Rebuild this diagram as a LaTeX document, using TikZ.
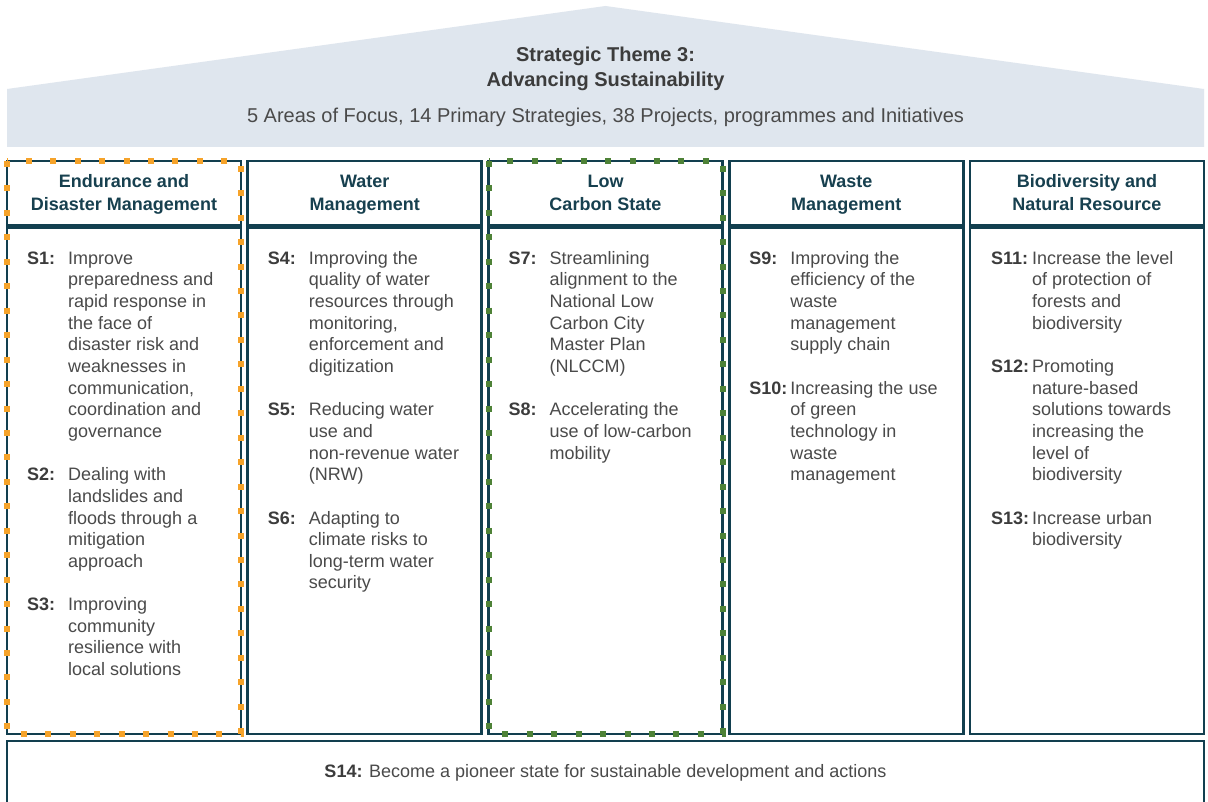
\documentclass[tikz,border=0pt]{standalone}
\usepackage{fontspec}
\setmainfont{Liberation Sans}
\usepackage{array}

\definecolor{roofgray}{HTML}{DFE6EE}
\definecolor{boxteal}{HTML}{123F4F}
\definecolor{dotorange}{HTML}{F6A32A}
\definecolor{dotgreen}{HTML}{4E8237}
\definecolor{headteal}{HTML}{17404F}
\definecolor{bodygray}{HTML}{4A4A4A}
\definecolor{labelgray}{HTML}{3C3C3C}

\tikzset{
    boxline/.style={draw=boxteal, line width=2.6pt},
    divline/.style={draw=boxteal, line width=5pt},
    dotline/.style={line width=6pt, dash pattern=on 6pt off 18.45pt},
    headtext/.style={inner sep=0pt, text=headteal,
        font=\fontsize{18}{22.5}\selectfont\bfseries},
    strat/.style={anchor=north west, inner sep=0pt, text=bodygray,
        font=\fontsize{18}{21.65}\selectfont},
}
\newcommand{\stitem}[2]{\begin{tabular}{@{}p{41pt}@{}l@{}}%
    \textcolor{labelgray}{\bfseries #1} & #2\end{tabular}}
\newcommand{\headlines}[2]{\begin{tabular}{@{}c@{}}#1\\#2\end{tabular}}

\begin{document}
\begin{tikzpicture}[x=1pt, y=-1pt]
    \useasboundingbox (0,0) rectangle (1208,802);
    \fill[white] (0,0) rectangle (1208,802);
    \clip (0,0) rectangle (1208,802);

    % roof
    \fill[roofgray] (7,147) -- (7,89) -- (605.5,6) -- (1204,89)
        -- (1204,147) -- cycle;
    \node[inner sep=0pt, text=labelgray,
        font=\fontsize{20}{24.3}\selectfont\bfseries] (theme) at (605.5,69)
        {\headlines{Strategic Theme 3:}{Advancing Sustainability}};
    \node[anchor=base, inner sep=0pt, text=bodygray,
        font=\fontsize{20}{24}\selectfont] (focus) at (605.5,122.3)
        {5 Areas of Focus, 14 Primary Strategies, 38 Projects, programmes and Initiatives};

    % pillars
    \foreach \i in {0,...,4} {
        \pgfmathsetmacro{\cl}{7+240.75*\i}
        \draw[boxline] (\cl,161) rectangle ++(234,573);
        \draw[divline] (\cl,227) -- ++(234,0);
    }
    \draw[dotline, dotorange] (7,161) rectangle (241,734);
    \draw[dotline, dotgreen] (488.5,161) rectangle (722.5,734);

    % headers
    \node[headtext] (h1) at (124,194.45) {\headlines{Endurance and}{Disaster Management}};
    \node[headtext] (h2) at (364.75,194.45) {\headlines{Water}{Management}};
    \node[headtext] (h3) at (605.5,194.45) {\headlines{Low}{Carbon State}};
    \node[headtext] (h4) at (846.25,194.45) {\headlines{Waste}{Management}};
    \node[headtext] (h5) at (1087,194.45) {\headlines{Biodiversity and}{Natural Resource}};

    % endurance and disaster management
    \node[strat] (s1) at (27,248.85) {\stitem{S1:}{Improve\\ & preparedness and\\
        & rapid response in\\ & the face of\\ & disaster risk and\\ & weaknesses in\\
        & communication,\\ & coordination and\\ & governance}};
    \node[strat] (s2) at (27,465.35) {\stitem{S2:}{Dealing with\\ & landslides and\\
        & floods through a\\ & mitigation\\ & approach}};
    \node[strat] (s3) at (27,595.25) {\stitem{S3:}{Improving\\ & community\\
        & resilience with\\ & local solutions}};

    % water management
    \node[strat] (s4) at (267.75,248.85) {\stitem{S4:}{Improving the\\ & quality of water\\
        & resources through\\ & monitoring,\\ & enforcement and\\ & digitization}};
    \node[strat] (s5) at (267.75,400.4) {\stitem{S5:}{Reducing water\\ & use and\\
        & non-revenue water\\ & (NRW)}};
    \node[strat] (s6) at (267.75,508.65) {\stitem{S6:}{Adapting to\\ & climate risks to\\
        & long-term water\\ & security}};

    % low carbon state
    \node[strat] (s7) at (508.5,248.85) {\stitem{S7:}{Streamlining\\ & alignment to the\\
        & National Low\\ & Carbon City\\ & Master Plan\\ & (NLCCM)}};
    \node[strat] (s8) at (508.5,400.4) {\stitem{S8:}{Accelerating the\\
        & use of low-carbon\\ & mobility}};

    % waste management
    \node[strat] (s9) at (749.25,248.85) {\stitem{S9:}{Improving the\\ & efficiency of the\\
        & waste\\ & management\\ & supply chain}};
    \node[strat] (s10) at (749.25,378.75) {\stitem{S10:}{Increasing the use\\ & of green\\
        & technology in\\ & waste\\ & management}};

    % biodiversity and natural resource
    \node[strat] (s11) at (991,248.85) {\stitem{S11:}{Increase the level\\
        & of protection of\\ & forests and\\ & biodiversity}};
    \node[strat] (s12) at (991,357.1) {\stitem{S12:}{Promoting\\ & nature-based\\
        & solutions towards\\ & increasing the\\ & level of\\ & biodiversity}};
    \node[strat] (s13) at (991,508.65) {\stitem{S13:}{Increase urban\\ & biodiversity}};

    % foundation
    \draw[boxline] (7,812) -- (7,741) -- (1204,741) -- (1204,812);
    \node[anchor=base, inner sep=0pt, text=bodygray,
        font=\fontsize{18}{21.65}\selectfont] (s14) at (605.5,777)
        {\textcolor{labelgray}{\bfseries S14:} Become a pioneer state for sustainable development and actions};
\end{tikzpicture}
\end{document}
